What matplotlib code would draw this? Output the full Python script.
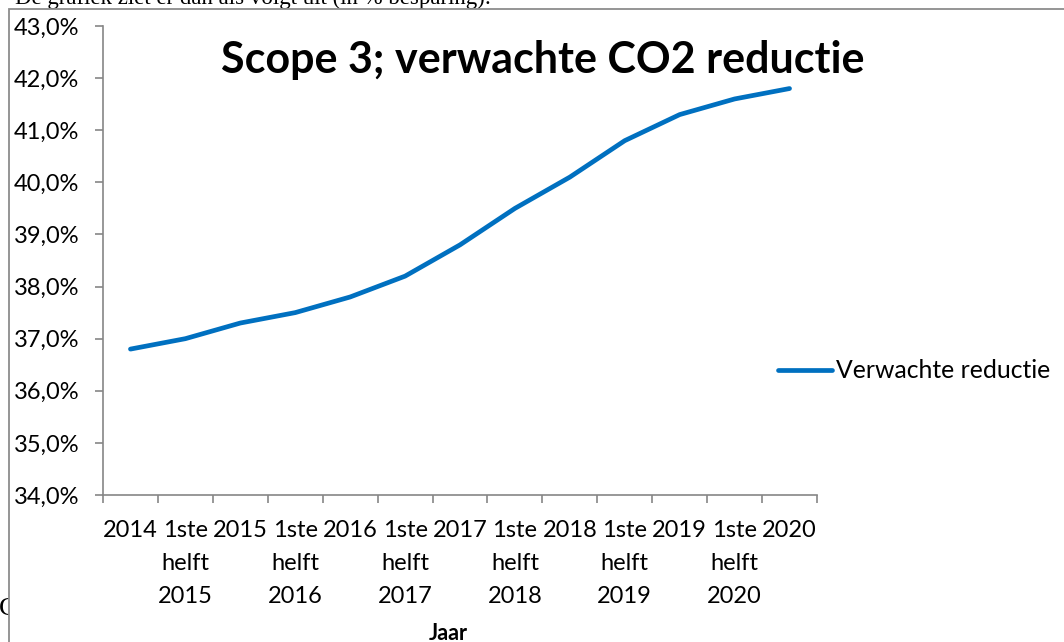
import matplotlib
matplotlib.use("Agg")
import matplotlib.pyplot as plt
from matplotlib.patches import Rectangle
from matplotlib.ticker import FuncFormatter

categories = ["2014", "1ste\nhelft\n2015", "2015", "1ste\nhelft\n2016", "2016",
              "1ste\nhelft\n2017", "2017", "1ste\nhelft\n2018", "2018",
              "1ste\nhelft\n2019", "2019", "1ste\nhelft\n2020", "2020"]
reductie = [36.8, 37.0, 37.3, 37.5, 37.8, 38.2, 38.8, 39.5, 40.1, 40.8, 41.3, 41.6, 41.8]
yticks = [34, 35, 36, 37, 38, 39, 40, 41, 42, 43]

W, H = 1064, 642
fig = plt.figure(figsize=(W / 100, H / 100), dpi=100)
FONT = ["Lato", "DejaVu Sans"]
plt.rcParams["font.family"] = FONT
FS = 17

# background document text (partially hidden)
fig.text(15 / W, 1 - 4 / H, "De grafiek ziet er dan als volgt uit (in % besparing):",
         family=["Liberation Serif"], fontsize=16.5, va="baseline", ha="left", zorder=-3)
fig.text(-1 / W, 1 - 615 / H, "C", family=["Liberation Serif"], fontsize=19,
         va="baseline", ha="left", zorder=-3)

# chart frame
frame = Rectangle((8.5 / W, -0.05), 1.2, 1 - 8.5 / H + 0.05, transform=fig.transFigure,
                  facecolor="white", edgecolor="#8c8c8c", linewidth=1.3, zorder=-1)
fig.patches.append(frame)

ax = fig.add_axes([103 / W, 1 - 495 / H, (817 - 103) / W, (495 - 26) / H])
ax.set_facecolor("none")
x = list(range(len(categories)))
ax.plot(x, reductie, color="#0070C0", linewidth=3.4, solid_capstyle="round",
        label="Verwachte reductie")
ax.set_xlim(-0.5, len(categories) - 0.5)
ax.set_ylim(34, 43)
ax.set_yticks(yticks)
ax.yaxis.set_major_formatter(FuncFormatter(lambda v, p: f"{v:.1f}".replace(".", ",") + "%"))
ax.set_xticks(x)
ax.set_xticklabels(categories, linespacing=1.7)
ax.set_xticks([i - 0.5 for i in range(len(categories) + 1)], minor=True)
ax.tick_params(axis="x", which="major", length=0, pad=18, labelsize=FS)
ax.tick_params(axis="x", which="minor", length=6, color="#868686", width=1.2, direction="out")
ax.tick_params(axis="y", length=6, color="#868686", width=1.2, direction="out", pad=11, labelsize=FS)
for s in ["top", "right"]:
    ax.spines[s].set_visible(False)
for s in ["left", "bottom"]:
    ax.spines[s].set_color("#868686")
    ax.spines[s].set_linewidth(1.2)

fig.text(543 / W, 1 - 60 / H, "Scope 3; verwachte CO2 reductie", fontsize=31,
         fontweight="bold", ha="center", va="center")
fig.text(448 / W, 1 - 640 / H, "Jaar", fontsize=15.5, fontweight="bold", ha="center", va="baseline")

fig.legend(loc="center left", bbox_to_anchor=(778 / W, 1 - 371 / H), frameon=False,
           fontsize=17.8, handlelength=2.2, handletextpad=0.15, borderpad=0, borderaxespad=0)

fig.savefig("out.png", dpi=100)
